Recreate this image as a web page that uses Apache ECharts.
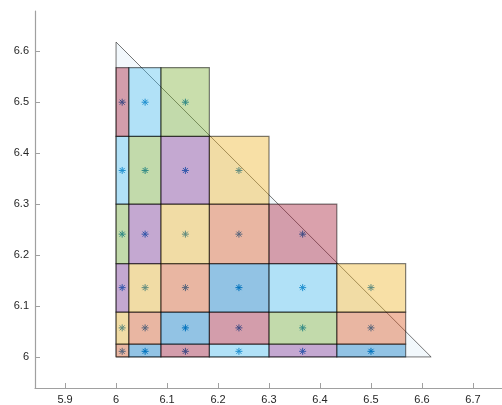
<!DOCTYPE html>
<html>
<head>
<meta charset="utf-8">
<script src="https://cdn.jsdelivr.net/npm/echarts@6/dist/echarts.min.js"></script>
<style>
  html, body { margin: 0; padding: 0; background: #fff; }
  #chart { width: 502px; height: 405px; }
</style>
</head>
<body>
<div id="chart"></div>
<script>
// Cell boundaries along x and y
const xEdges = [6, 6.025, 6.088, 6.183, 6.3, 6.433, 6.568];
const yEdges = [6, 6.025, 6.088, 6.183, 6.3, 6.433, 6.568];
// Number of stacked cells in each column (bottom to top)
const columnCells = [6, 6, 6, 5, 4, 3];
// Sample point coordinates in each column / row
const pointX = [6.012, 6.057, 6.136, 6.241, 6.366, 6.5];
const pointY = [6.011, 6.057, 6.136, 6.241, 6.366, 6.5];
// Enclosing triangle
const triangle = [[6, 6], [6.618, 6], [6, 6.618]];
// Axis ticks
const xTicks = [5.9, 6, 6.1, 6.2, 6.3, 6.4, 6.5, 6.6, 6.7];
const yTicks = [6, 6.1, 6.2, 6.3, 6.4, 6.5, 6.6];

// Colour cycle for the cell faces
const palette = [
  [0, 114, 189], [217, 83, 25], [237, 177, 32], [126, 47, 142],
  [119, 172, 48], [77, 190, 238], [162, 20, 47]
];

// Build cells column by column, colour index continuing through the cycle
const cells = [];
const points = [];
let k = 1;
columnCells.forEach((n, c) => {
  for (let r = 0; r < n; r++) {
    cells.push([xEdges[c], xEdges[c + 1], yEdges[r], yEdges[r + 1], k % palette.length]);
    points.push([pointX[c], pointY[r]]);
    k++;
  }
});

const rgba = (c, a) => `rgba(${c[0]},${c[1]},${c[2]},${a})`;

const chart = echarts.init(document.getElementById('chart'), null, { renderer: 'canvas' });

const axisColor = '#a0a0a0';
const labelStyle = { color: '#262626', fontFamily: 'Liberation Sans, Arial, sans-serif', fontSize: 11 };

chart.setOption({
  animation: false,
  grid: { left: 35, right: 0, top: 11, bottom: 17 },
  xAxis: {
    type: 'value', min: 5.841, max: 6.757,
    axisLine: { show: true, onZero: false, lineStyle: { color: axisColor, width: 1.2 } },
    axisTick: { show: true, inside: true, length: 5, customValues: xTicks, lineStyle: { color: axisColor } },
    axisLabel: Object.assign({ customValues: xTicks, margin: 6, formatter: v => String(+v.toFixed(2)) }, labelStyle),
    splitLine: { show: false }
  },
  yAxis: {
    type: 'value', min: 5.939, max: 6.679,
    axisLine: { show: true, onZero: false, lineStyle: { color: axisColor, width: 1.2 } },
    axisTick: { show: true, inside: true, length: 5, customValues: yTicks, lineStyle: { color: axisColor } },
    axisLabel: Object.assign({ customValues: yTicks, margin: 6, formatter: v => String(+v.toFixed(2)) }, labelStyle),
    splitLine: { show: false }
  },
  series: [
    {
      // triangle outline and faint fill
      type: 'custom', z: 1, silent: true,
      data: [0],
      renderItem: (params, api) => ({
        type: 'polygon',
        shape: { points: triangle.map(p => api.coord(p)) },
        style: { fill: rgba(palette[0], 0.05), stroke: 'rgba(40,40,40,0.8)', lineWidth: 0.8 }
      })
    },
    {
      // sample points drawn as asterisks beneath the cells
      type: 'custom', z: 2, silent: true,
      data: points,
      renderItem: (params, api) => {
        const p = api.coord([api.value(0), api.value(1)]);
        const r = 3.5, d = 2.5;
        const segs = [
          [[-r, 0], [r, 0]], [[0, -r], [0, r]],
          [[-d, -d], [d, d]], [[-d, d], [d, -d]]
        ];
        return {
          type: 'group',
          children: segs.map(s => ({
            type: 'line',
            shape: { x1: p[0] + s[0][0], y1: p[1] + s[0][1], x2: p[0] + s[1][0], y2: p[1] + s[1][1] },
            style: { stroke: 'rgb(0,114,189)', lineWidth: 1 }
          }))
        };
      }
    },
    {
      // translucent cells
      type: 'custom', z: 3, silent: true,
      data: cells,
      renderItem: (params, api) => {
        const a = api.coord([api.value(0), api.value(3)]);
        const b = api.coord([api.value(1), api.value(2)]);
        const col = palette[api.value(4)];
        return {
          type: 'rect',
          shape: { x: a[0], y: a[1], width: b[0] - a[0], height: b[1] - a[1] },
          style: { fill: rgba(col, 0.4), stroke: 'rgba(0,0,0,0.5)', lineWidth: 1.2 }
        };
      }
    }
  ]
});
</script>
</body>
</html>
